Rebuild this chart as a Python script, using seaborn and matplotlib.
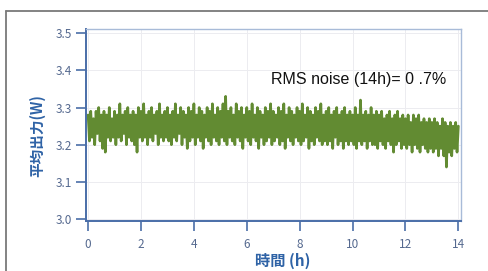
import numpy as np
import matplotlib
matplotlib.use('Agg')
import matplotlib.pyplot as plt
import seaborn as sns
import pandas as pd
from matplotlib.lines import Line2D

# Output power readings (W), sampled every 0.05 h over 14 h
power = [
    3.28, 3.21, 3.29, 3.22, 3.27, 3.20, 3.29, 3.23, 3.30, 3.21, 3.28, 3.19, 3.29, 3.18, 3.28, 3.22, 3.30, 3.21, 3.27, 3.22,
    3.29, 3.20, 3.28, 3.22, 3.31, 3.21, 3.28, 3.23, 3.29, 3.20, 3.30, 3.22, 3.28, 3.21, 3.29, 3.20, 3.28, 3.18, 3.30, 3.22,
    3.29, 3.21, 3.31, 3.22, 3.28, 3.20, 3.29, 3.22, 3.30, 3.21, 3.28, 3.23, 3.29, 3.20, 3.31, 3.22, 3.28, 3.21, 3.29, 3.22,
    3.30, 3.21, 3.28, 3.20, 3.29, 3.22, 3.31, 3.21, 3.28, 3.23, 3.30, 3.20, 3.29, 3.22, 3.28, 3.19, 3.30, 3.21, 3.29, 3.22,
    3.31, 3.20, 3.28, 3.22, 3.30, 3.21, 3.29, 3.19, 3.28, 3.22, 3.30, 3.21, 3.29, 3.20, 3.31, 3.22, 3.28, 3.21, 3.30, 3.20,
    3.29, 3.22, 3.31, 3.21, 3.33, 3.20, 3.29, 3.22, 3.30, 3.21, 3.28, 3.20, 3.31, 3.22, 3.29, 3.21, 3.30, 3.19, 3.28, 3.22,
    3.30, 3.21, 3.29, 3.20, 3.31, 3.22, 3.28, 3.21, 3.30, 3.19, 3.29, 3.22, 3.28, 3.20, 3.30, 3.21, 3.29, 3.22, 3.31, 3.20,
    3.29, 3.21, 3.28, 3.22, 3.30, 3.20, 3.29, 3.21, 3.31, 3.19, 3.28, 3.22, 3.30, 3.21, 3.29, 3.20, 3.28, 3.22, 3.30, 3.21,
    3.29, 3.20, 3.31, 3.21, 3.28, 3.22, 3.30, 3.19, 3.29, 3.21, 3.28, 3.20, 3.30, 3.22, 3.29, 3.21, 3.31, 3.20, 3.28, 3.21,
    3.29, 3.20, 3.30, 3.21, 3.28, 3.19, 3.29, 3.22, 3.30, 3.20, 3.28, 3.21, 3.29, 3.19, 3.30, 3.21, 3.28, 3.20, 3.29, 3.21,
    3.28, 3.20, 3.30, 3.19, 3.28, 3.21, 3.32, 3.20, 3.28, 3.21, 3.29, 3.19, 3.28, 3.21, 3.30, 3.20, 3.28, 3.20, 3.29, 3.19,
    3.28, 3.21, 3.29, 3.20, 3.27, 3.19, 3.28, 3.21, 3.29, 3.20, 3.27, 3.18, 3.28, 3.20, 3.29, 3.21, 3.27, 3.19, 3.28, 3.20,
    3.27, 3.19, 3.28, 3.20, 3.26, 3.18, 3.28, 3.20, 3.27, 3.19, 3.28, 3.18, 3.26, 3.20, 3.27, 3.19, 3.26, 3.18, 3.27, 3.19,
    3.26, 3.18, 3.27, 3.19, 3.26, 3.17, 3.25, 3.19, 3.27, 3.17, 3.26, 3.14, 3.25, 3.18, 3.26, 3.17, 3.25, 3.19, 3.26, 3.18,
    3.25,
]
hours = np.linspace(0, 14, len(power))
df = pd.DataFrame({'時間': hours, '出力': power})

x_ticks = [0, 2, 4, 6, 8, 10, 12, 14]
y_ticks = [3.0, 3.1, 3.2, 3.3, 3.4, 3.5]
note = 'RMS noise (14h)= 0 .7%'

sns.set_theme(style='white')
plt.rcParams['font.family'] = ['Noto Sans CJK JP', 'DejaVu Sans']

fig = plt.figure(figsize=(4.89, 2.71), dpi=100)
ax = fig.add_axes([86 / 489, 1 - 221 / 271, 375 / 489, 192 / 271])

# outer frame (only top and left edges are inside the picture)
frame_top = 1 - 10.5 / 271
frame_left = 5.5 / 489
fig.lines.append(Line2D([frame_left, 1.0], [frame_top, frame_top], transform=fig.transFigure,
                        color='#7a7a7a', linewidth=1.3))
fig.lines.append(Line2D([frame_left, frame_left], [0.0, frame_top], transform=fig.transFigure,
                        color='#7a7a7a', linewidth=1.3))

sns.lineplot(data=df, x='時間', y='出力', ax=ax, color='#628b32', linewidth=1.9)

ax.set_xlim(-0.08, 14.1)
ax.set_ylim(2.995, 3.511)
ax.set_xticks(x_ticks)
ax.set_yticks(y_ticks)
ax.set_yticklabels([f'{v:.1f}' for v in y_ticks])
ax.grid(True, color='#ececf0', linewidth=0.7)
ax.set_xlabel('')
ax.set_ylabel('')

for side in ['left', 'bottom']:
    ax.spines[side].set_color('#4a6ea8')
    ax.spines[side].set_linewidth(1.4)
for side in ['top', 'right']:
    ax.spines[side].set_color('#a8bbd8')
    ax.spines[side].set_linewidth(1.0)

ax.tick_params(axis='both', direction='out', length=7, width=1.2,
               color='#4a6ea8', labelsize=8.5, labelcolor='#55698f')
ax.tick_params(axis='x', bottom=True, pad=5)
ax.tick_params(axis='y', left=True, pad=3)

ax.text(6.9, 3.374, note, fontsize=11.5, color='#111111', va='center', ha='left',
        family=['Liberation Sans Narrow', 'Liberation Sans', 'DejaVu Sans'])

fig.text(37 / 489, 1 - 136 / 271, '平均出力(W)', rotation=90, ha='center', va='center',
         fontsize=10.5, fontweight='bold', color='#2f63a6')
fig.text(283 / 489, 1 - 261 / 271, '時間 (h)', ha='center', va='center',
         fontsize=11, fontweight='bold', color='#2f63a6')

fig.savefig('out.png', dpi=100)
